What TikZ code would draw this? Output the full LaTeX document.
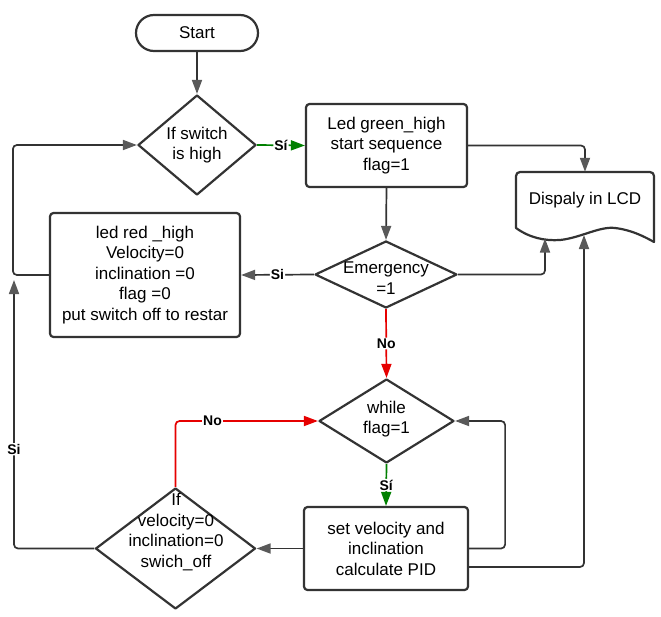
\documentclass[tikz,border=0pt]{standalone}
\usepackage{fontspec}
\setmainfont{Liberation Sans}
\usetikzlibrary{shapes.geometric,arrows.meta}

\definecolor{ink}{HTML}{333333}
\definecolor{tipgray}{HTML}{595959}
\definecolor{yesgreen}{HTML}{008000}
\definecolor{nored}{HTML}{E60000}

\tikzset{
  shapeline/.style={draw=ink, line width=2.2pt, line join=round},
  term/.style={shapeline, rounded corners=18pt, minimum width=122pt, minimum height=36pt,
    font=\fontsize{17}{20.5}\selectfont},
  procbox/.style={shapeline, rounded corners=3.5pt, align=center, inner sep=0pt,
    font=\fontsize{17}{20.5}\selectfont},
  decision/.style={shapeline, diamond, inner sep=0pt},
  txt/.style={align=center, inner sep=0pt, font=\fontsize{17}{20.5}\selectfont},
  conn/.style={draw=ink, line width=1.7pt, rounded corners=4pt,
    -{Triangle[length=14pt,width=10pt,color=tipgray]}},
  yesline/.style={conn, draw=yesgreen, -{Triangle[length=14pt,width=10pt,color=yesgreen]}},
  noline/.style={conn, draw=nored, -{Triangle[length=14pt,width=10pt,color=nored]}},
  lbl/.style={fill=white, inner sep=1pt, text=black, font=\fontsize{14}{16}\selectfont\bfseries},
}

\begin{document}
\begin{tikzpicture}[x=1pt, y=-1pt]
\useasboundingbox (0,0) rectangle (661,616);

% ---- nodes ----
\node[term] (start) at (197,33) {Start};

\node[decision, minimum width=118pt, minimum height=100pt] (sw) at (197,145) {};
\node[txt] (swt) at (197,145) {If switch\\is high};

\node[procbox, minimum width=161pt, minimum height=83pt] (grn) at (386.5,145.5)
  {Led green\_high\\start sequence\\flag=1};

\node[decision, minimum width=142pt, minimum height=67pt] (em) at (386,274.5) {};
\node[txt] (emt) at (386,278) {Emergency\\=1};

\node[procbox, minimum width=190pt, minimum height=124pt] (red) at (145,275)
  {led red \_high\\Velocity=0\\inclination =0\\flag =0\\put switch off to restar};

\node[decision, minimum width=135pt, minimum height=84pt] (wh) at (386.5,421) {};
\node[txt] (wht) at (386.5,419) {while\\flag=1};

\node[procbox, minimum width=164pt, minimum height=83pt] (set) at (386,548.5)
  {set velocity and\\inclination\\calculate PID};

\node[decision, minimum width=160pt, minimum height=121pt] (ifd) at (175.5,548.5) {};
\node[txt] (ifdt) at (176,532) {If\\velocity=0\\inclination=0\\swich\_off};

% display (document shape)
\node[txt, minimum width=138pt, minimum height=56pt] (lcd) at (585,200) {Dispaly in LCD};
\draw[shapeline, rounded corners=4pt, line cap=round]
  (516,228) -- (516,172) -- (654,172) -- (654,242);
\draw[shapeline, line cap=round]
  (516,228) .. controls (530,238) and (545,241) .. (560,240)
            .. controls (580,238) and (600,226) .. (615,228)
            .. controls (632,230) and (645,237) .. (654,242);
\coordinate (lcdA) at (545,238.5);
\coordinate (lcdB) at (584,235);

% loop-back end point on the left rail
\coordinate (rail) at (14,280);

% ---- connectors ----
\draw[conn] (start.south) -- (sw.north);
\draw[yesline] (sw.east) -- node[lbl] {Sí} (grn.west);
\draw[conn] (grn.east) -| (lcd.north);
\draw[conn] (grn.south) -- (em.north);
\draw[conn] (em.east) -| (lcdA);
\draw[conn] (em.west) -- node[lbl] {Si} (red.east);
\draw[conn] (red.west) -- ++(-36,0) |- (sw.west);
\draw[noline] (em.south) -- node[lbl] {No} (wh.north);
\draw[yesline] (wh.south) -- node[lbl] {Sí} (set.north);
\draw[conn] (set.east) -- ++(36,0) |- (wh.east);
\draw[conn] ([yshift=-18.5pt]set.east) -| (lcdB);
\draw[conn] (set.west) -- (ifd.east);
\draw[noline] (ifd.north) |- node[lbl, pos=0.63] {No} (wh.west);
\draw[conn] (ifd.west) -| node[lbl, pos=0.685] {Si} (rail);
\end{tikzpicture}
\end{document}
